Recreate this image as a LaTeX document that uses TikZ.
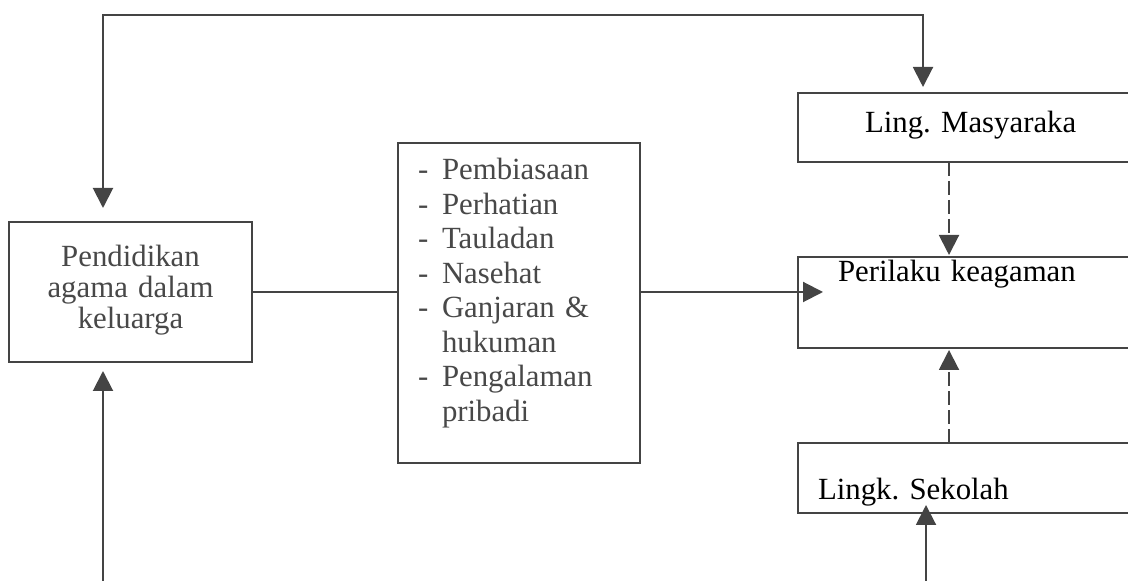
\documentclass[tikz,border=0pt]{standalone}
\usepackage{fontspec}
\setmainfont{Liberation Serif}
\usetikzlibrary{arrows.meta,calc}
\definecolor{linegray}{RGB}{68,68,68}
\definecolor{textgray}{RGB}{72,72,72}
\newcommand{\butir}[1]{\makebox[12pt][l]{-}#1}
\newcommand{\lanjut}[1]{\hspace*{12pt}#1}
\frenchspacing
\begin{document}
\begin{tikzpicture}[x=0.5pt,y=-0.5pt]
            \tikzstyle{box}=[draw=linegray,line width=1pt,anchor=north west,inner ysep=0pt,outer sep=0pt]
            \tikzstyle{link}=[draw=linegray,line width=1pt]
            \tikzstyle{tip}=[-{Triangle[width=10pt,length=10pt]}]
            \tikzstyle{both tips}=[{Triangle[width=10pt,length=10pt]}-{Triangle[width=10pt,length=10pt]}]
            \tikzstyle{dashed link}=[dash pattern=on 7pt off 2.5pt]
            \tikzstyle{grey text}=[text=textgray,font=\fontsize{15.4pt}{15.3pt}\selectfont]
            \tikzstyle{list text}=[text=textgray,font=\fontsize{15.4pt}{17.25pt}\selectfont]
            \tikzstyle{dark text}=[text=black,font=\fontsize{15.4pt}{18pt}\selectfont]

            \useasboundingbox (0,0) rectangle (1128,581);
            \clip (0,0) rectangle (1128,581);

            \node(pend)[box,grey text,align=center,inner xsep=0pt,text width=121.5pt,text height=22.5pt,text depth=47.5pt] at (9,222) {Pendidikan\\agama dalam\\keluarga};
            \node(cara)[box,list text,align=left,inner xsep=10pt,text width=101pt,text height=18.5pt,text depth=141.5pt] at (398,143)
            {\butir{Pembiasaan}\\\butir{Perhatian}\\\butir{Tauladan}\\\butir{Nasehat}\\\butir{Ganjaran \&}\\\lanjut{hukuman}\\\butir{Pengalaman}\\\lanjut{pribadi}};
            \node(masy)[box,dark text,align=left,inner xsep=33.5pt,text width=119pt,text height=20pt,text depth=14.5pt] at (798,93) {Ling. Masyaraka};
            \node(prl)[box,dark text,align=left,inner xsep=20pt,text width=146pt,text height=12.5pt,text depth=33pt] at (798,257) {Perilaku keagaman};
            \node(sek)[box,dark text,align=left,inner xsep=10pt,text width=166pt,text height=28.5pt,text depth=6.5pt] at (798,443) {Lingk. Sekolah};

            \coordinate(ka) at (103,15);
            \coordinate(kn) at (923,15);
            \coordinate(bk) at (103,581);
            \coordinate(bn) at (926,581);

            \draw[link,both tips] ($(pend.north west)+(94,-14)$) -- (ka) -- (kn) -- ($(masy.north west)+(125,-6)$);
            \draw[link,tip] (bk) -- ($(pend.south west)+(94,9)$);
            \draw[link,tip] (bn) -- ($(sek.south west)+(128,-8)$);
            \draw[link,tip,dashed link] ($(masy.south west)+(151,0)$) -- ($(prl.north west)+(151,-2)$);
            \draw[link,tip,dashed link] ($(sek.north west)+(151,0)$) -- ($(prl.south west)+(151,2)$);
            \draw[link] (pend.east) -- (pend.east -| cara.west);
            \draw[link,tip,shorten >=-12.5pt] (pend.east -| cara.east) -- (pend.east -| prl.west);
        \end{tikzpicture}
\end{document}
